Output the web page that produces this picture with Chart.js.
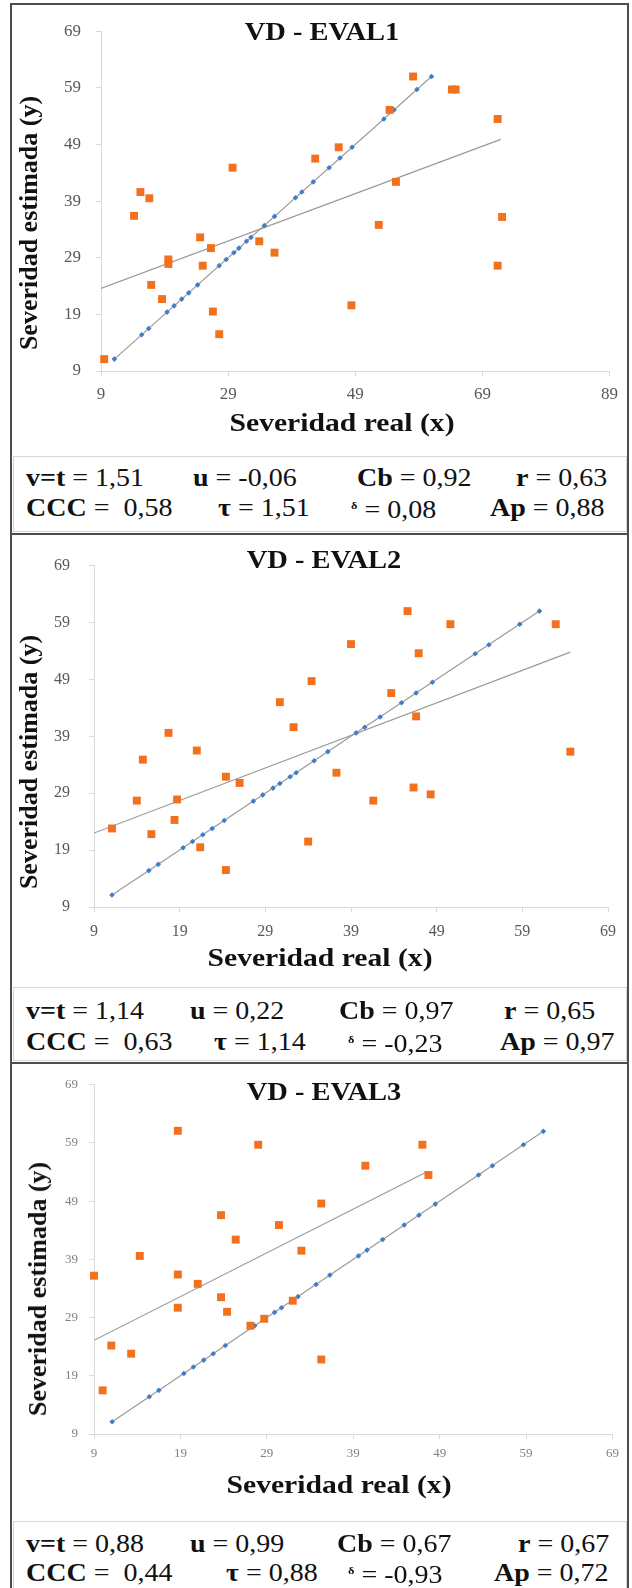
<!DOCTYPE html>
<html>
<head>
<meta charset="utf-8">
<script src="https://cdn.jsdelivr.net/npm/chart.js@4.4.1/dist/chart.umd.min.js"></script>
<style>
    html, body { margin: 0; padding: 0; background: #fff; }
    body { width: 632px; height: 1588px; position: relative; overflow: hidden;
           font-family: "Liberation Serif", "DejaVu Serif", serif; color: #111; }
    canvas { position: absolute; }
    .frame { position: absolute; background: #4d4d4d; }
    .box { position: absolute; border: 1.5px solid #d6d6d6; box-sizing: border-box; }
    .title, .xt { position: absolute; font-weight: bold; white-space: nowrap;
                  transform: translate(-50%, -50%) scaleX(1.14); }
    .title { font-size: 25px; }
    .xt { font-size: 26px; }
    .yt { position: absolute; font-weight: bold; font-size: 26px; white-space: nowrap;
          transform: translate(-50%, -50%) rotate(-90deg); }
    .st { position: absolute; font-size: 25px; line-height: 25px; white-space: nowrap;
          transform-origin: 0 50%; transform: translateY(-50%) scaleX(1.12); }
    .st b { font-weight: bold; }
    .st .d { font-size: 11px; font-weight: bold; vertical-align: 9px; }
</style>
</head>
<body>

<div class="frame" style="left:10px;top:3px;width:619px;height:2px"></div>
<div class="frame" style="left:10px;top:3px;width:2px;height:1585px"></div>
<div class="frame" style="left:627px;top:3px;width:2px;height:1585px"></div>
<div class="frame" style="left:10px;top:533px;width:619px;height:2px"></div>
<div class="frame" style="left:10px;top:1062px;width:619px;height:2px"></div>

<div class="box" style="left:13px;top:456px;width:614px;height:76px"></div>
<div class="box" style="left:13px;top:987px;width:614px;height:74px"></div>
<div class="box" style="left:13px;top:1521px;width:614px;height:72px"></div>

<canvas id="c1" width="614" height="448" style="left:12px;top:6px"></canvas>
<canvas id="c2" width="614" height="450" style="left:12px;top:537px"></canvas>
<canvas id="c3" width="614" height="455" style="left:12px;top:1066px"></canvas>

<div id="overlay"></div>

<script>
// Ticks
const ticksY = [9, 19, 29, 39, 49, 59, 69];
const ticksX1 = [9, 29, 49, 69, 89];
const ticksX23 = [9, 19, 29, 39, 49, 59, 69];

// Serie azul (x = y), igual en los tres paneles
const identidad = [11.1, 15.4, 16.5, 19.4, 20.5, 21.7, 22.8, 24.2, 27.6, 28.7, 29.9, 30.7, 31.9,
    32.6, 34.7, 36.3, 39.6, 40.6, 42.4, 44.9, 46.6, 48.5, 53.5, 55.1, 58.7, 61.0];
const identLine = [11.1, 61.0];

// EVAL1
const eval1X = [9.5, 14.2, 15.2, 16.6, 16.9, 18.6, 19.6, 19.6, 24.6, 25.0, 26.3, 26.6, 27.6, 29.7,
    33.9, 36.3, 42.7, 46.4, 48.4, 52.7, 54.4, 55.4, 58.1, 64.2, 64.8, 71.4, 71.4, 72.1];
const eval1Y = [11.1, 36.4, 40.6, 39.5, 24.2, 21.7, 28.7, 27.9, 32.6, 27.6, 30.7, 19.5, 15.5, 44.9,
    31.9, 29.9, 46.5, 48.5, 20.6, 34.8, 55.1, 42.4, 61.0, 58.7, 58.7, 53.5, 27.6, 36.2];
const trend1X = [9, 71.9];
const trend1Y = [23.6, 49.9];

// EVAL2
const eval2X = [11.1, 14.0, 14.7, 15.7, 17.7, 18.4, 18.7, 21.0, 21.4, 24.4, 24.4, 26.0, 30.7, 32.3,
    34.0, 34.4, 37.3, 39.0, 41.6, 43.7, 45.6, 46.3, 46.6, 46.9, 48.3, 50.6, 62.9, 64.6];
const eval2Y = [22.8, 27.7, 34.9, 21.8, 39.6, 24.3, 27.9, 36.5, 19.5, 31.9, 15.5, 30.8, 45.0, 40.6,
    20.5, 48.7, 32.6, 55.2, 27.7, 46.6, 61.0, 30.0, 42.5, 53.6, 28.8, 58.7, 58.7, 36.3];
const trend2X = [9, 64.6];
const trend2Y = [22.0, 53.8];

// EVAL3
const eval3X = [9.0, 10.0, 11.0, 13.3, 14.3, 18.7, 18.7, 18.7, 21.0, 23.7, 23.7, 24.4, 25.4, 27.1,
    28.0, 28.7, 30.4, 32.0, 33.0, 35.3, 35.3, 40.4, 47.0, 47.7];
const eval3Y = [36.2, 16.5, 24.2, 22.8, 39.6, 61.1, 36.4, 30.7, 34.8, 46.6, 32.5, 30.0, 42.4, 27.6,
    58.7, 28.8, 44.9, 31.9, 40.5, 48.6, 21.8, 55.1, 58.7, 53.5];
const trend3X = [9, 47.6];
const trend3Y = [25.1, 54.1];

// Estadisticos
const statLabels = ['v=t', 'u', 'Cb', 'r', 'CCC', 'τ', 'δ', 'Ap'];
const stats1 = ['1,51', '-0,06', '0,92', '0,63', '0,58', '1,51', '0,08', '0,88'];
const stats2 = ['1,14', '0,22', '0,97', '0,65', '0,63', '1,14', '-0,23', '0,97'];
const stats3 = ['0,88', '0,99', '0,67', '0,67', '0,44', '0,88', '-0,93', '0,72'];

const FONT = "'Liberation Serif', 'DejaVu Serif', serif";
const ORANGE = '#F2711F';
const BLUE = '#3F7DCB';
const LINE = '#9a9a9a';

const panels = [
    { id: 'c1', name: 'VD - EVAL1', xs: eval1X, ys: eval1Y, tx: trend1X, ty: trend1Y, stats: stats1,
      xTicks: ticksX1, xMax: 89, tickSize: 17, tickColor: '#595959', yPad: 15, xPad: 8,
      axisW: 89, pad: { left: 0, top: 14, right: 16, bottom: 43 },
      title: [322, 32], xTitle: [342, 423], yTitle: [29, 223],
      rows: [477, 507], cols1: [26, 193, 357, 516], cols2: [26, 218, 351, 490] },
    { id: 'c2', name: 'VD - EVAL2', xs: eval2X, ys: eval2Y, tx: trend2X, ty: trend2Y, stats: stats2,
      xTicks: ticksX23, xMax: 69, tickSize: 16, tickColor: '#595959', yPad: 19, xPad: 10,
      axisW: 82, pad: { left: 0, top: 13, right: 14, bottom: 40 },
      title: [324, 560], xTitle: [320, 958], yTitle: [29, 762],
      rows: [1010, 1041], cols1: [26, 190, 339, 504], cols2: [26, 214, 348, 500] },
    { id: 'c3', name: 'VD - EVAL3', xs: eval3X, ys: eval3Y, tx: trend3X, ty: trend3Y, stats: stats3,
      xTicks: ticksX23, xMax: 69, tickSize: 13, tickColor: '#808080', yPad: 11, xPad: 7,
      axisW: 82, pad: { left: 0, top: 13, right: 13, bottom: 47 },
      title: [324, 1092], xTitle: [339, 1485], yTitle: [38, 1289],
      rows: [1543, 1572], cols1: [26, 190, 337, 518], cols2: [26, 226, 348, 494] }
];

function toPoints(xs, ys) {
    return xs.map((x, i) => ({ x: x, y: ys[i] }));
}

function makeChart(p) {
    const axisCommon = {
        type: 'linear',
        grid: { drawOnChartArea: false, color: '#d9d9d9', tickLength: 5 },
        border: { color: '#d9d9d9', width: 1 },
    };
    new Chart(document.getElementById(p.id), {
        type: 'scatter',
        data: {
            datasets: [
                { data: toPoints(p.xs, p.ys), pointStyle: 'rect', pointRadius: 5.6,
                  backgroundColor: ORANGE, borderWidth: 0, clip: false },
                { data: toPoints(identidad, identidad), pointStyle: 'rectRot', pointRadius: 2.8,
                  backgroundColor: BLUE, borderWidth: 0, clip: false },
                { data: toPoints(identLine, identLine), showLine: true, pointRadius: 0,
                  borderColor: LINE, borderWidth: 1.2 },
                { data: toPoints(p.tx, p.ty), showLine: true, pointRadius: 0,
                  borderColor: LINE, borderWidth: 1.2 }
            ]
        },
        options: {
            responsive: false,
            animation: false,
            events: [],
            layout: { padding: p.pad },
            plugins: { legend: { display: false }, tooltip: { enabled: false } },
            scales: {
                x: { ...axisCommon, min: 9, max: p.xMax,
                     afterBuildTicks: s => { s.ticks = p.xTicks.map(v => ({ value: v })); },
                     afterFit: s => { s.height = 40; },
                     ticks: { font: { family: FONT, size: p.tickSize }, color: p.tickColor,
                              padding: p.xPad, maxRotation: 0, autoSkip: false } },
                y: { ...axisCommon, min: 9, max: 69,
                     afterBuildTicks: s => { s.ticks = ticksY.map(v => ({ value: v })); },
                     afterFit: s => { s.width = p.axisW; },
                     ticks: { font: { family: FONT, size: p.tickSize }, color: p.tickColor,
                              padding: p.yPad, autoSkip: false } }
            }
        }
    });
}

function addText(cls, pos, html) {
    const el = document.createElement('div');
    el.className = cls;
    el.style.left = pos[0] + 'px';
    el.style.top = pos[1] + 'px';
    el.innerHTML = html;
    document.getElementById('overlay').appendChild(el);
}

function statHtml(label, value) {
    if (label === 'δ') return `<span class="d">δ</span> = ${value}`;
    if (label === 'CCC') return `<b>${label}</b> =&nbsp; ${value}`;
    return `<b>${label}</b> = ${value}`;
}

panels.forEach(p => {
    makeChart(p);
    addText('title', p.title, p.name);
    addText('xt', p.xTitle, 'Severidad real (x)');
    addText('yt', p.yTitle, 'Severidad estimada (y)');
    for (let i = 0; i < 4; i++) {
        addText('st', [p.cols1[i], p.rows[0]], statHtml(statLabels[i], p.stats[i]));
        addText('st', [p.cols2[i], p.rows[1]], statHtml(statLabels[i + 4], p.stats[i + 4]));
    }
});
</script>
</body>
</html>
